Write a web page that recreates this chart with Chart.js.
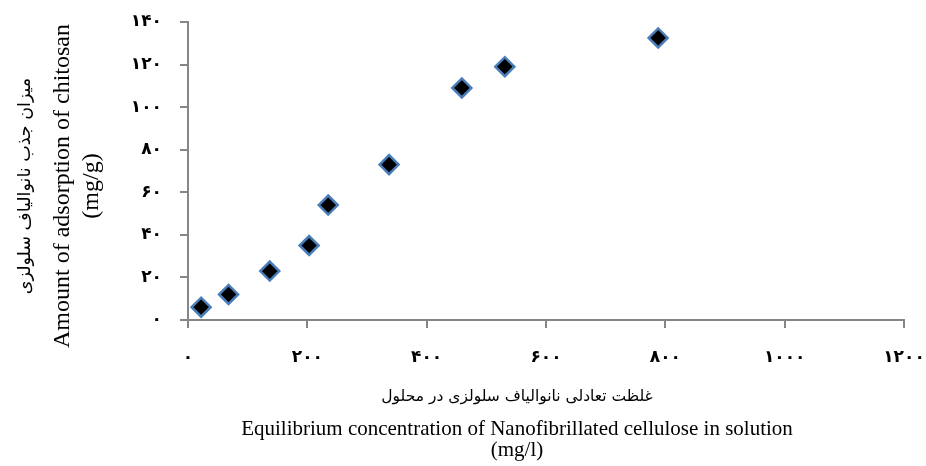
<!DOCTYPE html>
<html>
<head>
<meta charset="utf-8">
<script src="https://cdn.jsdelivr.net/npm/chart.js@4"></script>
<style>
  body { margin: 0; background: #fff; }
  #wrap { width: 926px; height: 466px; }
</style>
</head>
<body>
<div id="wrap"><canvas id="chart"></canvas></div>
<script>
// Data
const concentration = [22, 68, 137, 203, 235, 337, 459, 531, 788];
const adsorption = [6, 12, 23, 35, 54, 73, 109, 119, 132.5];

const xTickValues = [0, 200, 400, 600, 800, 1000, 1200];
const xTickLabels = ['۰', '۲۰۰', '۴۰۰', '۶۰۰', '۸۰۰', '۱۰۰۰', '۱۲۰۰'];
const yTickValues = [0, 20, 40, 60, 80, 100, 120, 140];
const yTickLabels = ['۰', '۲۰', '۴۰', '۶۰', '۸۰', '۱۰۰', '۱۲۰', '۱۴۰'];

const xTitleFa = 'غلظت تعادلی نانوالیاف سلولزی در محلول';
const xTitleEn = 'Equilibrium concentration of Nanofibrillated cellulose in solution';
const xTitleUnit = '(mg/l)';
const yTitleFa = 'میزان جذب نانوالیاف سلولزی';
const yTitleEn = 'Amount of adsorption of chitosan';
const yTitleUnit = '(mg/g)';

const axisColor = '#868686';
const serif = "'Liberation Serif', 'Times New Roman', 'DejaVu Sans', serif";
const tickFont = { family: "'DejaVu Sans', sans-serif", size: 17, weight: 'bold' };

// axis titles drawn by hand so each line can have its own font
const axisTitles = {
    id: 'axisTitles',
    afterDraw(chart) {
        const ctx = chart.ctx;
        const cx = 517;
        ctx.save();
        ctx.fillStyle = '#000';
        ctx.textAlign = 'center';
        ctx.textBaseline = 'middle';

        ctx.font = "15.5px 'DejaVu Sans', sans-serif";
        ctx.fillText(xTitleFa, cx, 397);
        ctx.font = '21px ' + serif;
        ctx.fillText(xTitleEn, cx, 429);
        ctx.fillText(xTitleUnit, cx, 450);

        const cy = 186;
        ctx.translate(0, cy);
        ctx.rotate(-Math.PI / 2);
        ctx.font = "17.5px 'DejaVu Sans', sans-serif";
        ctx.fillText(yTitleFa, 0, 25);
        ctx.font = '24px ' + serif;
        ctx.fillText(yTitleEn, 0, 63);
        ctx.fillText(yTitleUnit, 0, 92);
        ctx.restore();
    }
};

new Chart(document.getElementById('chart'), {
    type: 'scatter',
    data: {
        datasets: [{
            data: concentration.map((x, i) => ({ x: x, y: adsorption[i] })),
            pointStyle: 'rectRot',
            pointRadius: 9.5,
            pointHoverRadius: 9.5,
            backgroundColor: '#000',
            borderColor: '#4a7ebb',
            borderWidth: 2.5
        }]
    },
    options: {
        responsive: true,
        maintainAspectRatio: false,
        animation: false,
        layout: { padding: { left: 0, top: 22, right: 22, bottom: 0 } },
        plugins: {
            legend: { display: false },
            tooltip: { enabled: false }
        },
        scales: {
            x: {
                type: 'linear',
                min: 0,
                max: 1200,
                afterFit: s => { s.height = 146; s.paddingRight = 0; s.paddingLeft = 0; },
                afterBuildTicks: s => { s.ticks = xTickValues.map(v => ({ value: v })); },
                ticks: {
                    color: '#000',
                    font: tickFont,
                    padding: 19,
                    maxRotation: 0,
                    callback: (v) => xTickLabels[xTickValues.indexOf(v)]
                },
                grid: { drawOnChartArea: false, color: axisColor, lineWidth: 2, tickLength: 8 },
                border: { color: axisColor, width: 2 }
            },
            y: {
                type: 'linear',
                min: 0,
                max: 140,
                afterFit: s => { s.width = 188; s.paddingTop = 0; s.paddingBottom = 0; },
                afterBuildTicks: s => { s.ticks = yTickValues.map(v => ({ value: v })); },
                ticks: {
                    color: '#000',
                    font: tickFont,
                    padding: 18,
                    callback: (v) => yTickLabels[yTickValues.indexOf(v)]
                },
                grid: { drawOnChartArea: false, color: axisColor, lineWidth: 2, tickLength: 8 },
                border: { color: axisColor, width: 2 }
            }
        }
    },
    plugins: [axisTitles]
});
</script>
</body>
</html>
